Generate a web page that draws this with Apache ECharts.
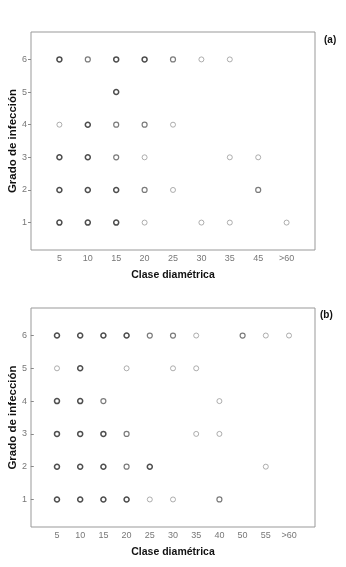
<!DOCTYPE html>
<html><head><meta charset="utf-8">
<script src="https://cdn.jsdelivr.net/npm/echarts@6/dist/echarts.min.js"></script>
<style>html,body{margin:0;padding:0;background:#fff}#c{width:346px;height:567px}</style>
</head><body><div id="c"></div>
<script>
// Panel (a) categories and points: [diameter class, infection grade, overlap shade level 1..3]
const catsA = ['5','10','15','20','25','30','35','45','>60'];
const pointsA = [
  ['5',6,3],['10',6,2],['15',6,3],['20',6,3],['25',6,2],['30',6,1],['35',6,1],
  ['15',5,3],
  ['5',4,1],['10',4,3],['15',4,2],['20',4,2],['25',4,1],
  ['5',3,3],['10',3,3],['15',3,2],['20',3,1],['35',3,1],['45',3,1],
  ['5',2,3],['10',2,3],['15',2,3],['20',2,2],['25',2,1],['45',2,2],
  ['5',1,3],['10',1,3],['15',1,3],['20',1,1],['30',1,1],['35',1,1],['>60',1,1]
];
// Panel (b)
const catsB = ['5','10','15','20','25','30','35','40','50','55','>60'];
const pointsB = [
  ['5',6,3],['10',6,3],['15',6,3],['20',6,3],['25',6,2],['30',6,2],['35',6,1],['50',6,2],['55',6,1],['>60',6,1],
  ['5',5,1],['10',5,3],['20',5,1],['30',5,1],['35',5,1],
  ['5',4,3],['10',4,3],['15',4,2],['40',4,1],
  ['5',3,3],['10',3,3],['15',3,3],['20',3,2],['35',3,1],['40',3,1],
  ['5',2,3],['10',2,3],['15',2,3],['20',2,2],['25',2,3],['55',2,1],
  ['5',1,3],['10',1,3],['15',1,3],['20',1,3],['25',1,1],['30',1,1],['40',1,2]
];
const yTicks = [1,2,3,4,5,6];
const xTitle = 'Clase diamétrica';
const yTitle = 'Grado de infección';
const panelLabels = ['(a)','(b)'];

const FONT = 'Liberation Sans, Arial, sans-serif';
const shade = {1:{c:'#9a9a9a',w:1},2:{c:'#5a5a5a',w:1.2},3:{c:'#222',w:1.5}};

function xAxisFor(cats, gi, pad){
  const pos = cats.map((_,i)=>i+1);
  return {
    type:'value', gridIndex:gi, min:1-pad, max:cats.length+pad,
    name:xTitle, nameLocation:'middle', nameGap:20, nameMoveOverlap:false,
    nameTextStyle:{fontFamily:FONT,fontSize:10.5,fontWeight:'bold',color:'#111'},
    axisLine:{show:false}, axisTick:{show:false}, splitLine:{show:false},
    axisLabel:{customValues:pos, formatter:v=>cats[Math.round(v)-1]||'', fontFamily:FONT,fontSize:9,color:'#777',margin:4}
  };
}
function yAxisFor(gi){
  return {
    type:'value', gridIndex:gi, min:0.16, max:6.84,
    name:yTitle, nameLocation:'middle', nameGap:12, nameRotate:90, nameMoveOverlap:false,
    nameTextStyle:{fontFamily:FONT,fontSize:11.5,fontWeight:'bold',color:'#111'},
    axisLine:{show:false}, splitLine:{show:false},
    axisTick:{show:true, customValues:yTicks, length:3, lineStyle:{color:'#888'}},
    axisLabel:{customValues:yTicks, fontFamily:FONT,fontSize:9,color:'#777',margin:4}
  };
}
function seriesFor(cats, pts, gi){
  return {
    type:'scatter', xAxisIndex:gi, yAxisIndex:gi, symbol:'circle', symbolSize:5,
    data: pts.map(p=>({value:[cats.indexOf(p[0])+1, p[1]],
      itemStyle:{color:'#fff', borderColor:shade[p[2]].c, borderWidth:shade[p[2]].w}})),
    emphasis:{disabled:true}, silent:true, animation:false
  };
}

const chart = echarts.init(document.getElementById('c'), null, {renderer:'canvas'});
chart.setOption({
  animation:false,
  grid:[
    {left:31, top:32, width:284, height:218, show:true, borderColor:'#999', borderWidth:1, backgroundColor:'#fff', containLabel:false, outerBoundsMode:'none'},
    {left:31, top:308, width:284, height:219, show:true, borderColor:'#999', borderWidth:1, backgroundColor:'#fff', containLabel:false, outerBoundsMode:'none'}
  ],
  xAxis:[xAxisFor(catsA,0,1.0), xAxisFor(catsB,1,1.12)],
  yAxis:[yAxisFor(0), yAxisFor(1)],
  series:[seriesFor(catsA,pointsA,0), seriesFor(catsB,pointsB,1)],
  graphic:[
    {type:'text', left:324, top:35, style:{text:panelLabels[0], font:'bold 10px '+FONT, fill:'#111'}},
    {type:'text', left:320, top:310, style:{text:panelLabels[1], font:'bold 10px '+FONT, fill:'#111'}}
  ]
});
</script></body></html>
